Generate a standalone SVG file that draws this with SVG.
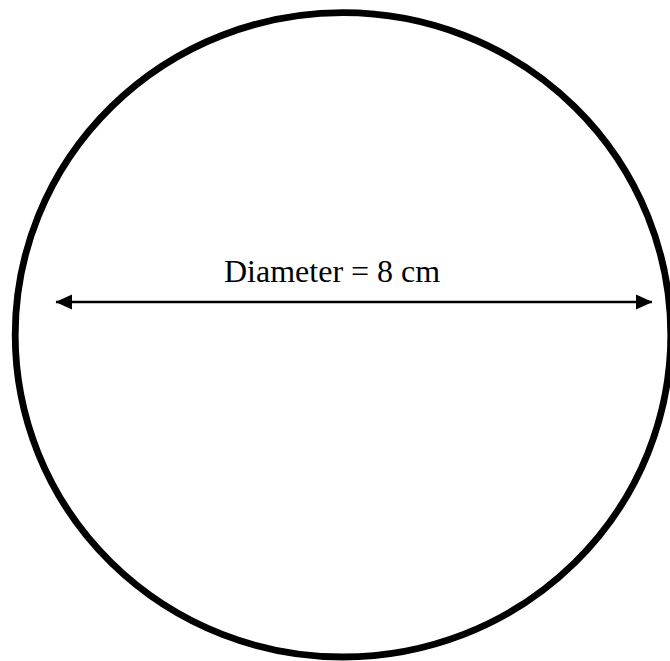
<svg xmlns="http://www.w3.org/2000/svg" width="670" height="661" viewBox="0 0 670 661">
<style>
.outline{fill:none;stroke:#000;stroke-width:6.8}
.dim{fill:none;stroke:#000;stroke-width:2.5}
.label{font-family:"Liberation Serif","Times New Roman",serif;font-size:32px;fill:#000}
</style>
<defs>
<marker id="ah" markerUnits="userSpaceOnUse" markerWidth="18" markerHeight="16" refX="16" refY="8" orient="auto-start-reverse" viewBox="0 0 18 16">
<path d="M0,0.5 L16.5,8 L0,15.5 Z" fill="#000"/>
</marker>
</defs>
<rect width="670" height="661" fill="#fff"/>
<g id="circle">
<ellipse class="outline" cx="343" cy="334.8" rx="327.8" ry="322.2"/>
</g>
<g id="connectors">
<line class="dim" x1="56" y1="302" x2="652" y2="302" marker-start="url(#ah)" marker-end="url(#ah)"/>
</g>
<g id="label">
<text class="label" x="224" y="281.5">Diameter = 8 cm</text>
</g>
</svg>
